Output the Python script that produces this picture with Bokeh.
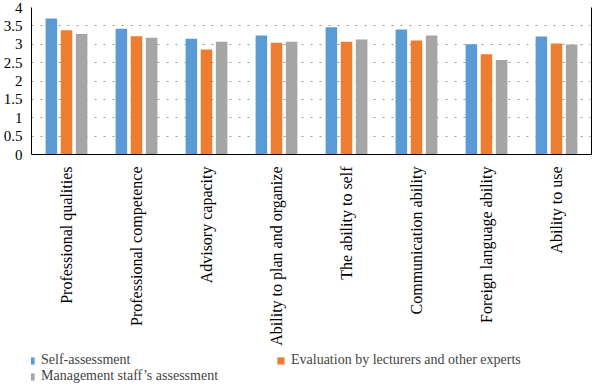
import math
from bokeh.plotting import figure
from bokeh.layouts import column
from bokeh.models import (FactorRange, Range1d, Legend, LegendItem, LinearAxis,
                          FixedTicker, ColumnDataSource)
from bokeh.transform import dodge
from bokeh.embed import file_html
from bokeh.resources import INLINE

categories = ["Professional qualities", "Professional competence", "Advisory capacity",
              "Ability to plan and organize", "The ability to self", "Communication ability",
              "Foreign language ability", "Ability to use"]
self_assessment = [3.70, 3.42, 3.15, 3.24, 3.46, 3.40, 3.00, 3.21]
lecturers = [3.38, 3.22, 2.86, 3.04, 3.07, 3.10, 2.73, 3.02]
management = [3.28, 3.18, 3.07, 3.07, 3.13, 3.24, 2.57, 2.99]
series_names = ["Self-assessment", "Evaluation by lecturers and other experts",
                "Management staff\u2019s assessment"]
colors = ["#5B9BD5", "#ED7D31", "#A5A5A5"]
y_ticks = [0, 0.5, 1, 1.5, 2, 2.5, 3, 3.5, 4]

FONT = "Liberation Serif"

source = ColumnDataSource(dict(cat=categories, s=self_assessment, l=lecturers, m=management))

p = figure(x_range=FactorRange(factors=categories), y_range=Range1d(0, 4),
           frame_width=560, frame_height=147, output_backend="svg", toolbar_location=None,
           min_border_left=22, min_border_top=7, min_border_right=2, min_border_bottom=178)
p.outline_line_color = None

r1 = p.vbar(x=dodge("cat", -0.216, range=p.x_range), top="s", width=0.165, source=source,
            fill_color=colors[0], line_color=None)
r2 = p.vbar(x=dodge("cat", 0.0, range=p.x_range), top="l", width=0.165, source=source,
            fill_color=colors[1], line_color=None)
r3 = p.vbar(x=dodge("cat", 0.216, range=p.x_range), top="m", width=0.165, source=source,
            fill_color=colors[2], line_color=None)

p.xgrid.grid_line_color = None
p.ygrid.grid_line_color = "#9a9a9a"
p.ygrid.grid_line_dash = "2 7"
p.ygrid.grid_line_width = 1.2

p.yaxis.ticker = FixedTicker(ticks=y_ticks)
p.yaxis.major_label_overrides = {0: "0", 4: "4", 1: "1", 2: "2", 3: "3"}
p.yaxis.major_tick_line_color = None
p.yaxis.minor_tick_line_color = None
p.yaxis.axis_line_color = "black"
p.yaxis.major_label_text_font = FONT
p.yaxis.major_label_text_font_size = "15px"
p.yaxis.major_label_text_color = "black"
p.yaxis.major_label_standoff = 3

p.xaxis.major_label_orientation = math.pi / 2
p.xaxis.major_tick_line_color = None
p.xaxis.axis_line_color = "black"
p.xaxis.major_label_text_font = FONT
p.xaxis.major_label_text_font_size = "16px"
p.xaxis.major_label_text_color = "black"
p.xaxis.major_label_standoff = 6

right = LinearAxis(ticker=FixedTicker(ticks=[]), axis_line_color="black",
                   major_tick_line_color=None, minor_tick_line_color=None,
                   major_label_text_font_size="0px")
p.add_layout(right, "right")

# legend panel (separate figure below the chart); its swatch renderers sit outside the view
pl = figure(width=584, height=40, x_range=Range1d(0, 1), y_range=Range1d(0, 1),
            output_backend="svg", toolbar_location=None, min_border=0)
pl.axis.visible = False
pl.grid.visible = False
pl.outline_line_color = None
lr = [pl.vbar(x=[-5], top=[-5], bottom=[-6], width=0.1, fill_color=c, line_color=None)
      for c in colors]

legend = Legend(items=[LegendItem(label=series_names[0], renderers=[lr[0]]),
                       LegendItem(label=series_names[2], renderers=[lr[2]]),
                       LegendItem(label=series_names[1], renderers=[lr[1]])],
                orientation="vertical", nrows=2, location=(-5, 4),
                label_text_font=FONT, label_text_font_size="14px",
                label_text_line_height=0.85,
                glyph_width=9, glyph_height=9, label_standoff=6,
                label_width=235, spacing=0, padding=2, margin=0,
                border_line_color=None, background_fill_alpha=0,
                label_height=9)
pl.add_layout(legend, "center")

layout = column(p, pl, spacing=0)
open("out.html", "w").write(file_html(layout, INLINE))
